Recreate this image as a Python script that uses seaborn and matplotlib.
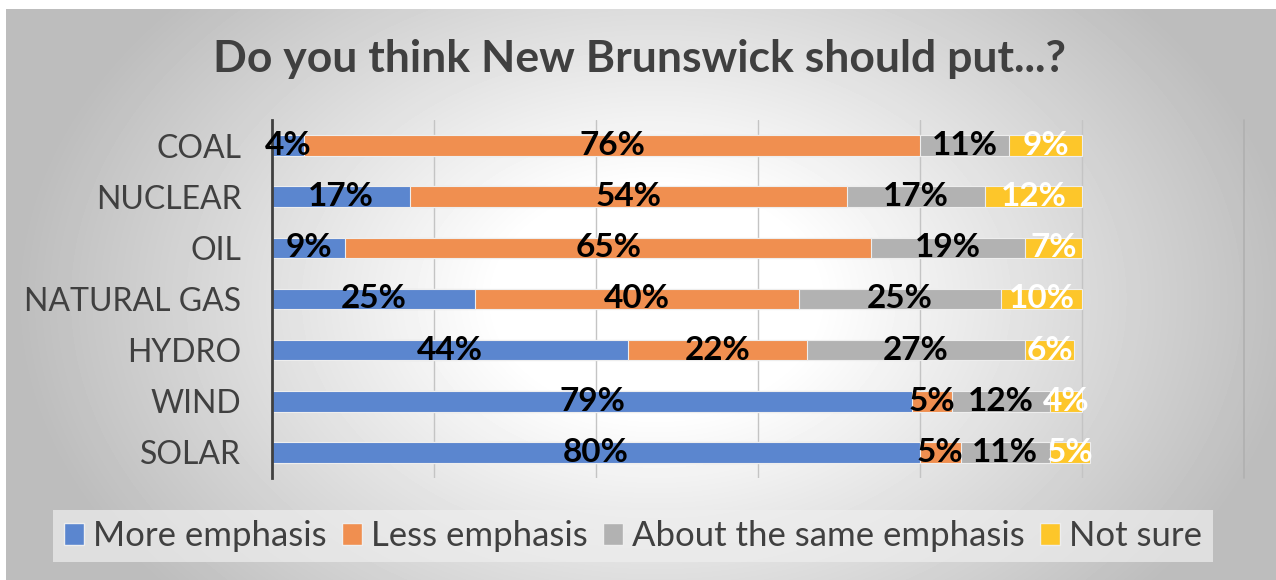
import numpy as np
import pandas as pd
import seaborn as sns
import matplotlib.pyplot as plt
from matplotlib.patches import Patch

# survey data (percent)
sources = ["COAL", "NUCLEAR", "OIL", "NATURAL GAS", "HYDRO", "WIND", "SOLAR"]
more = [4, 17, 9, 25, 44, 79, 80]
less = [76, 54, 65, 40, 22, 5, 5]
same = [11, 17, 19, 25, 27, 12, 11]
not_sure = [9, 12, 7, 10, 6, 4, 5]

series_names = ["More emphasis", "Less emphasis", "About the same emphasis", "Not sure"]
colors = ["#5b86cf", "#f08f50", "#b2b2b2", "#fdc62a"]
label_colors = ["black", "black", "black", "white"]

sns.set_theme(style="white")
plt.rcParams["font.family"] = ["Lato", "DejaVu Sans"]

df = pd.DataFrame({"source": sources, series_names[0]: more, series_names[1]: less,
                   series_names[2]: same, series_names[3]: not_sure})
cum = df[series_names].cumsum(axis=1) / 100

W, H = 1276, 580
fig = plt.figure(figsize=(W / 100, H / 100), dpi=100)
fig.patch.set_facecolor("white")

# radial grey gradient background
bg = fig.add_axes([6 / W, 0, 1 - 6 / W, 1 - 9 / H])
yy, xx = np.mgrid[0:571, 0:1270]
d = np.sqrt(((xx - 650) / 640.0) ** 2 + ((yy - 290) / 450.0) ** 2)
g = 1 - 0.26 * np.clip((d - 0.25) / 0.75, 0, 1)
bg.imshow(g, cmap="gray", vmin=0, vmax=1, aspect="auto", interpolation="bilinear")
bg.axis("off")
bg.set_zorder(-5)

ax = fig.add_axes([272 / W, (H - 478) / H, (1244 - 272) / W, (478 - 120) / H])
ax.patch.set_alpha(0)

# stacked bars: draw cumulative totals from longest to shortest
for i in reversed(range(len(series_names))):
    sns.barplot(x=cum[series_names[i]].values, y=sources, order=sources, orient="h",
                color=colors[i], saturation=1, width=0.4, ax=ax,
                edgecolor="#eeeeee", linewidth=0.8, zorder=2)

for j, src in enumerate(sources):
    left = 0
    for i, name in enumerate(series_names):
        val = df.loc[j, name]
        ax.text(left + val / 200, j, f"{val}%", ha="center", va="center",
                fontsize=24, fontweight="bold", color=label_colors[i], zorder=5)
        left += val / 100

ax.set_xlim(0, 1.2)
ax.set_ylim(6.5, -0.5)
ax.set_xticks([0.2, 0.4, 0.6, 0.8, 1.0])
ax.set_xticklabels([])
ax.xaxis.grid(True, color="#c4c4c4", lw=1, zorder=0)
ax.axvline(1.2, color="#b0b0b0", lw=1.2, clip_on=False, zorder=0)
ax.set_axisbelow(True)
ax.tick_params(axis="both", length=0)
ax.tick_params(axis="y", labelsize=23, labelcolor="#404040", pad=22)
ax.set_xlabel("")
ax.set_ylabel("")
for s in ["top", "right", "bottom"]:
    ax.spines[s].set_visible(False)
ax.spines["left"].set_color("#404040")
ax.spines["left"].set_linewidth(2)

fig.text(640 / W, 1 - 59 / H, "Do you think New Brunswick should put...?", ha="center",
         va="center", fontsize=32, fontweight="bold", color="#404040")

handles = [Patch(facecolor=c, edgecolor="#eeeeee", label=n) for c, n in zip(colors, series_names)]
leg = fig.legend(handles=handles, loc="center", bbox_to_anchor=(633 / W, 1 - 536 / H),
                 ncol=4, frameon=True, fancybox=False, facecolor="#eeeeee", edgecolor="none",
                 framealpha=0.7, fontsize=25, handlelength=0.58, handleheight=0.58,
                 handletextpad=0.25, columnspacing=0.45, borderpad=0.3)
for t in leg.get_texts():
    t.set_color("#404040")

fig.savefig("out.png", dpi=100)
